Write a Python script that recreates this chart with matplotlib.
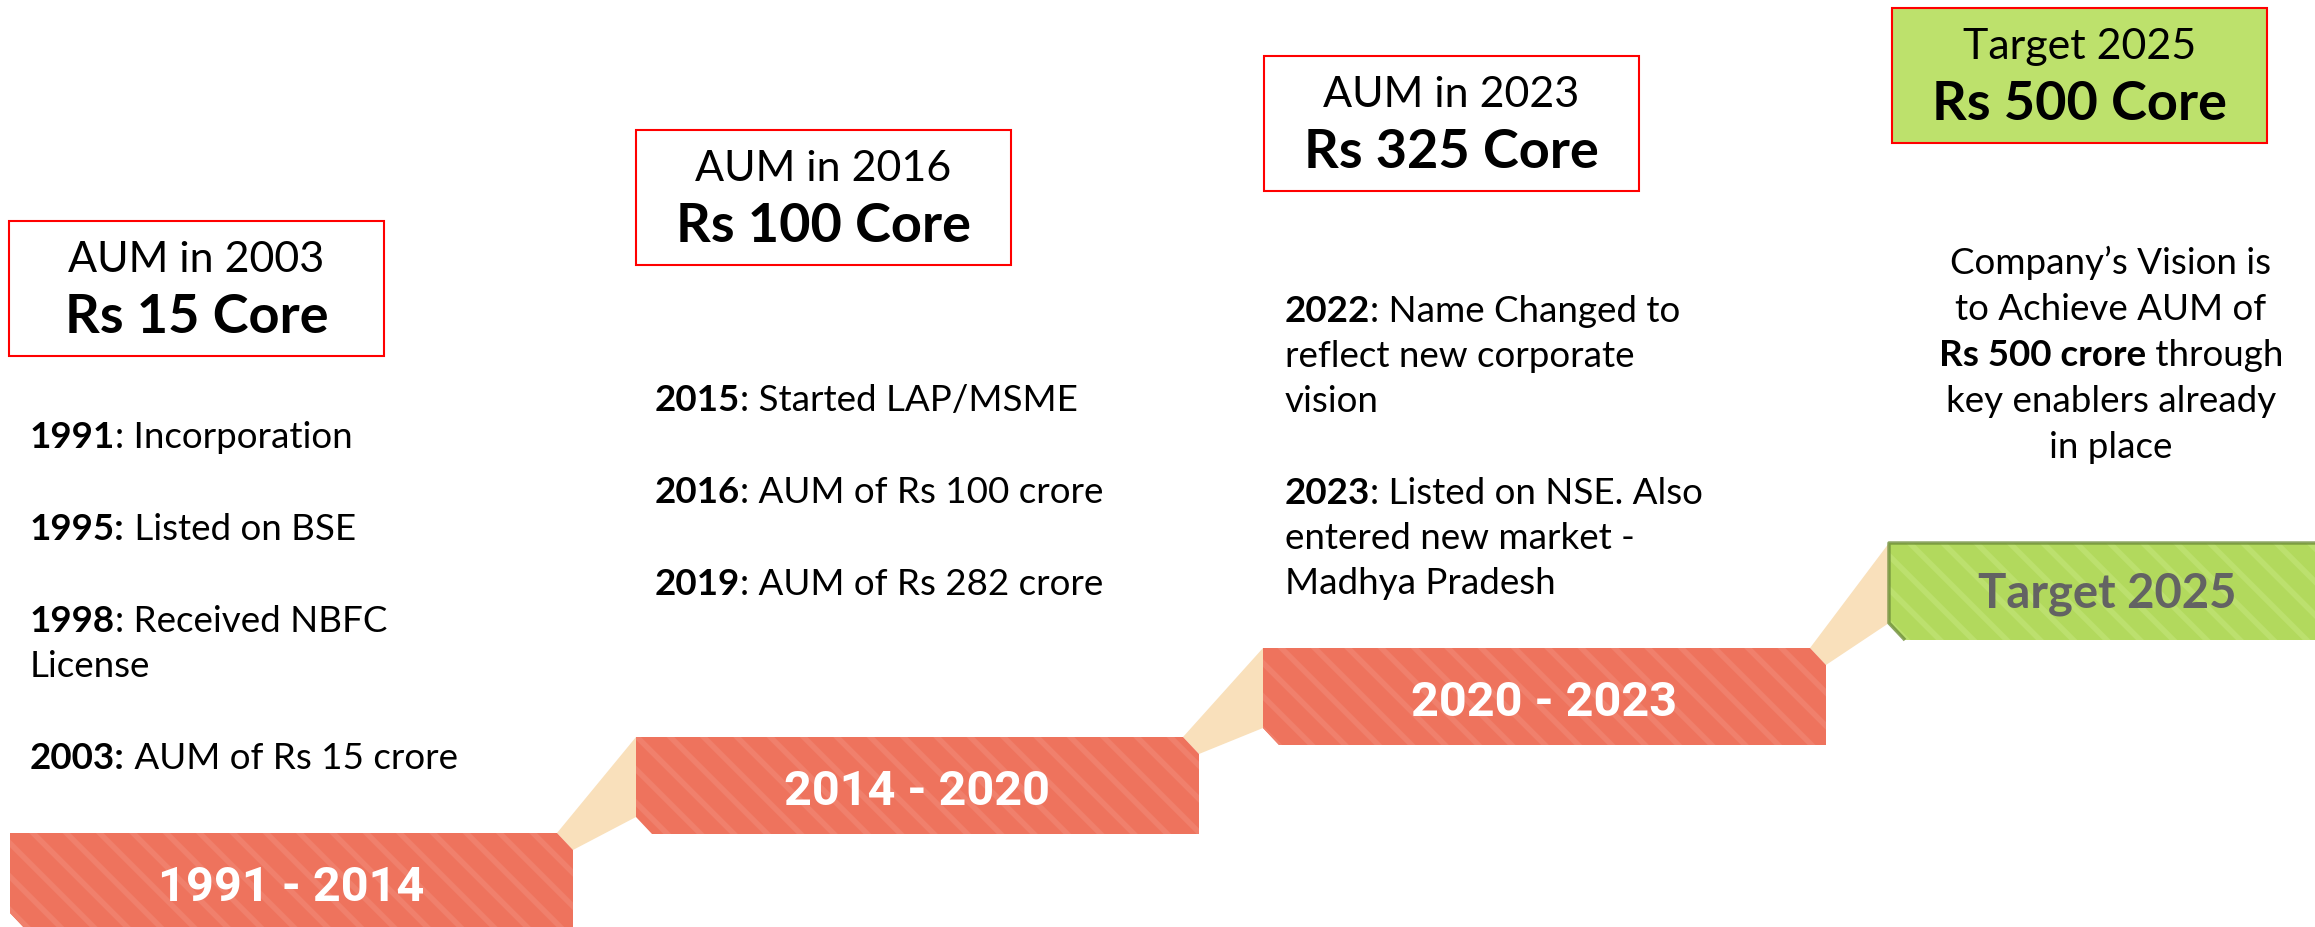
import matplotlib.pyplot as plt
from matplotlib.patches import Polygon, Rectangle

plt.rcParams['font.family'] = ['Lato', 'DejaVu Sans']
plt.rcParams['hatch.linewidth'] = 4

# timeline content
periods = ['1991 - 2014', '2014 - 2020', '2020 - 2023', 'Target 2025']
aum_labels = ['AUM in 2003', 'AUM in 2016', 'AUM in 2023', 'Target 2025']
aum_values = ['Rs 15 Core', 'Rs 100 Core', 'Rs 325 Core', 'Rs 500 Core']

milestones_1 = [('1991', ': Incorporation'),
                ('1995:', ' Listed on BSE'),
                ('1998', ': Received NBFC\nLicense'),
                ('2003:', ' AUM of Rs 15 crore')]
milestones_2 = [('2015', ': Started LAP/MSME'),
                ('2016', ': AUM of Rs 100 crore'),
                ('2019', ': AUM of Rs 282 crore')]
milestones_3 = [('2022', ': Name Changed to\nreflect new corporate\nvision'),
                ('2023', ': Listed on NSE. Also\nentered new market -\nMadhya Pradesh')]
vision_lines = [[('Company\u2019s Vision is', False)],
                [('to Achieve AUM of', False)],
                [('Rs 500 crore', True), (' through', False)],
                [('key enablers already', False)],
                [('in place', False)]]

# layout (pixels)
W, H = 2315, 927
rib_left = [10, 636, 1263, 1889]
rib_top = [833, 737, 648, 543]
rib_w, rib_h = 563, 97
cut_x, cut_y = 16, 17
box_left = [9, 636, 1264, 1892]
box_top = [221, 130, 56, 8]
box_w, box_h = 375, 135
list_x = [30, 655, 1285]
list_y0 = [448, 411, 322]
line_step, para_step = 45, 92
body_size = 26.5

red, red_stripe = '#EE735D', '#F0806C'
green, green_stripe = '#B2D95D', '#BCE06E'
beige = '#F9E0BB'

fig = plt.figure(figsize=(W / 100, H / 100), dpi=100)
ax = fig.add_axes([0, 0, 1, 1])
ax.set_xlim(0, W)
ax.set_ylim(H, 0)
ax.axis('off')
renderer = fig.canvas.get_renderer()


def ribbon_pts(x, y):
    return [(x, y), (x + rib_w - cut_x, y), (x + rib_w, y + cut_y),
            (x + rib_w, y + rib_h), (x + cut_x, y + rib_h), (x, y + rib_h - cut_y)]


def rich_line(x, y, segs, size=body_size, ha='left'):
    texts = []
    for s, b in segs:
        t = ax.text(0, y, s, fontsize=size, fontweight='bold' if b else 'normal',
                    va='baseline', ha='left', color='black')
        texts.append(t)
    widths = [t.get_window_extent(renderer).width for t in texts]
    start = x - sum(widths) / 2 if ha == 'center' else x
    for t, w in zip(texts, widths):
        t.set_x(start)
        start += w


# connectors between ribbons
for i in range(len(periods) - 1):
    pts = [(rib_left[i] + rib_w - cut_x, rib_top[i]),
           (rib_left[i + 1], rib_top[i + 1]),
           (rib_left[i + 1], rib_top[i + 1] + rib_h - cut_y),
           (rib_left[i] + rib_w, rib_top[i] + cut_y)]
    ax.add_patch(Polygon(pts, closed=True, facecolor=beige, edgecolor='none', zorder=1))

# ribbons
for i, label in enumerate(periods):
    last = i == len(periods) - 1
    base, stripe = (green, green_stripe) if last else (red, red_stripe)
    pts = ribbon_pts(rib_left[i], rib_top[i])
    ax.add_patch(Polygon(pts, closed=True, facecolor=base, edgecolor='none', zorder=2))
    ax.add_patch(Polygon(pts, closed=True, facecolor='none', edgecolor=stripe,
                         hatch='\\', lw=0, zorder=3))
    if last:
        x, y = rib_left[i], rib_top[i]
        ax.plot([x + cut_x, x, x, x + rib_w], [y + rib_h, y + rib_h - cut_y, y, y],
                color='#6F8F3A', lw=2.5, alpha=0.8, zorder=4, solid_capstyle='butt')
        ax.text(x + 218, y + 65, label, fontsize=34, fontweight='bold',
                color='#636363', ha='center', va='baseline', zorder=5)
    else:
        ax.text(rib_left[i] + rib_w / 2, rib_top[i] + 68, label, family='Roboto',
                fontsize=35, fontweight='bold', color='white', ha='center',
                va='baseline', zorder=5)

# AUM boxes
for i in range(len(aum_labels)):
    fc = '#BDE16C' if i == len(aum_labels) - 1 else 'white'
    ax.add_patch(Rectangle((box_left[i], box_top[i]), box_w, box_h, facecolor=fc,
                           edgecolor='#FF0000', lw=1.5, zorder=2))
    cx = box_left[i] + box_w / 2
    ax.text(cx, box_top[i] + 51, aum_labels[i], fontsize=31, ha='center',
            va='baseline', color='black', zorder=3)
    ax.text(cx, box_top[i] + 112, aum_values[i], fontsize=39, fontweight='bold',
            ha='center', va='baseline', color='black', zorder=3)

# milestone lists
for col, items in enumerate([milestones_1, milestones_2, milestones_3]):
    y = list_y0[col]
    for year, rest in items:
        rest_lines = rest.split('\n')
        rich_line(list_x[col], y, [(year, True), (rest_lines[0], False)])
        for k, extra in enumerate(rest_lines[1:], start=1):
            rich_line(list_x[col], y + k * line_step, [(extra, False)])
        y += (len(rest_lines) - 1) * line_step + para_step

# vision text
for k, segs in enumerate(vision_lines):
    rich_line(2111, 274 + k * 46, segs, ha='center')

fig.savefig('out.png', dpi=100)
